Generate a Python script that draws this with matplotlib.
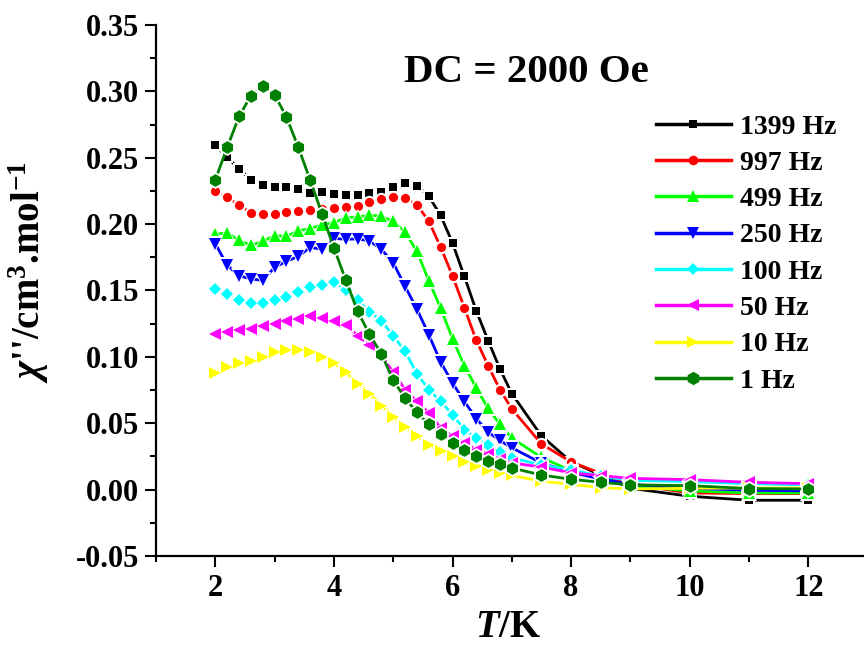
import matplotlib
matplotlib.use("Agg")
import matplotlib.pyplot as plt
from matplotlib.lines import Line2D
from matplotlib.ticker import MultipleLocator, FormatStrFormatter

plt.rcParams['font.family'] = 'Liberation Serif'
plt.rcParams['font.weight'] = 'bold'
plt.rcParams['axes.labelweight'] = 'bold'
plt.rcParams['mathtext.fontset'] = 'custom'
plt.rcParams['mathtext.rm'] = 'Liberation Serif:bold'
plt.rcParams['mathtext.bf'] = 'Liberation Serif:bold'
plt.rcParams['mathtext.it'] = 'Liberation Serif:italic:bold'

# Temperatures (K)
T = [2.0, 2.2, 2.4, 2.6, 2.8, 3.0, 3.2, 3.4, 3.6, 3.8, 4.0, 4.2, 4.4, 4.6, 4.8,
     5.0, 5.2, 5.4, 5.6, 5.8, 6.0, 6.2, 6.4, 6.6, 6.8, 7.0, 7.5, 8.0, 8.5, 9.0,
     10.0, 11.0, 12.0]

# out-of-phase susceptibility chi'' (cm3/mol) for each ac frequency
chi_1399 = [0.2595, 0.2503, 0.2415, 0.2334, 0.2294, 0.2279, 0.2279, 0.2264, 0.2236, 0.2244,
            0.2226, 0.2220, 0.2221, 0.2236, 0.2244, 0.2276, 0.2310, 0.2290, 0.2210, 0.2065,
            0.1858, 0.1606, 0.1348, 0.1123, 0.0909, 0.0723, 0.0405, 0.0210, 0.0110, 0.0010,
            -0.0050, -0.0080, -0.0080]
chi_997 = [0.2246, 0.2204, 0.2141, 0.2086, 0.2078, 0.2078, 0.2091, 0.2096, 0.2105, 0.2112,
           0.2122, 0.2129, 0.2139, 0.2166, 0.2189, 0.2206, 0.2197, 0.2146, 0.2022, 0.1827,
           0.1610, 0.1370, 0.1126, 0.0934, 0.0753, 0.0608, 0.0344, 0.0208, 0.0122, 0.0040,
           -0.0025, -0.0030, -0.0030]
chi_499 = [0.1925, 0.1933, 0.1877, 0.1840, 0.1870, 0.1913, 0.1908, 0.1950, 0.1966, 0.1995,
           0.2010, 0.2048, 0.2053, 0.2068, 0.2058, 0.2021, 0.1940, 0.1795, 0.1574, 0.1368,
           0.1136, 0.0934, 0.0766, 0.0612, 0.0492, 0.0389, 0.0242, 0.0143, 0.0080, 0.0030,
           -0.0010, -0.0025, -0.0025]
chi_250 = [0.1852, 0.1690, 0.1611, 0.1587, 0.1576, 0.1674, 0.1720, 0.1757, 0.1825, 0.1810,
           0.1892, 0.1886, 0.1888, 0.1874, 0.1810, 0.1710, 0.1531, 0.1360, 0.1167, 0.0961,
           0.0803, 0.0665, 0.0535, 0.0434, 0.0370, 0.0315, 0.0200, 0.0130, 0.0080, 0.0040,
           0.0010, -0.0005, -0.0010]
chi_100 = [0.1514, 0.1473, 0.1426, 0.1406, 0.1406, 0.1426, 0.1451, 0.1491, 0.1526, 0.1540,
           0.1563, 0.1500, 0.1425, 0.1340, 0.1272, 0.1160, 0.1041, 0.0873, 0.0753, 0.0665,
           0.0565, 0.0452, 0.0389, 0.0339, 0.0281, 0.0239, 0.0185, 0.0150, 0.0100, 0.0070,
           0.0060, 0.0045, 0.0035]
chi_50 = [0.1175, 0.1187, 0.1200, 0.1212, 0.1230, 0.1250, 0.1268, 0.1285, 0.1305, 0.1293,
          0.1268, 0.1242, 0.1160, 0.1092, 0.1004, 0.0887, 0.0753, 0.0665, 0.0578, 0.0465,
          0.0402, 0.0351, 0.0301, 0.0271, 0.0231, 0.0201, 0.0170, 0.0126, 0.0105, 0.0085,
          0.0075, 0.0055, 0.0045]
chi_10 = [0.0879, 0.0921, 0.0954, 0.0971, 0.0999, 0.1034, 0.1054, 0.1054, 0.1037, 0.0999,
          0.0954, 0.0883, 0.0798, 0.0723, 0.0633, 0.0550, 0.0472, 0.0407, 0.0339, 0.0288,
          0.0251, 0.0208, 0.0176, 0.0151, 0.0126, 0.0108, 0.0063, 0.0040, 0.0015, 0.0005,
          0.0010, 0.0012, 0.0012]
chi_1 = [0.2334, 0.2578, 0.2811, 0.2967, 0.3040, 0.2974, 0.2806, 0.2578, 0.2331, 0.2077,
         0.1820, 0.1580, 0.1343, 0.1170, 0.1022, 0.0825, 0.0688, 0.0582, 0.0494, 0.0419,
         0.0351, 0.0301, 0.0256, 0.0218, 0.0193, 0.0163, 0.0110, 0.0078, 0.0055, 0.0036,
         0.0030, 0.0008, 0.0005]

labels = ['1399 Hz', '997 Hz', '499 Hz', '250 Hz', '100 Hz', '50 Hz', '10 Hz', '1 Hz']
series = [chi_1399, chi_997, chi_499, chi_250, chi_100, chi_50, chi_10, chi_1]
colors = ['#000000', '#ff0000', '#00ff00', '#0000ff', '#00ffff', '#ff00ff', '#ffff00', '#008000']
markers = ['s', 'o', '^', 'v', 'D', '<', '>', 'h']
sizes = [5.8, 6.6, 8.6, 8.6, 6.3, 8.6, 8.6, 9.2]

fig = plt.figure(figsize=(8.64, 6.45), dpi=100)
ax = fig.add_axes([0.1806, 0.138, 0.8194, 0.8233])

# line, then a slightly bigger white symbol as a gap, then the coloured symbol
halo = 3.0
handles = []
for y, c, m, s in zip(series, colors, markers, sizes):
    ax.plot(T, y, color=c, lw=2)
    ax.plot(T, y, ls='none', marker=m, ms=s + halo, mfc='white', mec='white', mew=0)
    ax.plot(T, y, ls='none', marker=m, ms=s, mfc=c, mec=c, mew=0)
    handles.append(Line2D([], [], color=c, lw=2.5, marker=m, ms=s * 1.05, mfc=c, mec=c, mew=0))

ax.set_xlim(1, 12.94)
ax.set_ylim(-0.05, 0.35)
ax.xaxis.set_major_locator(MultipleLocator(2))
ax.xaxis.set_minor_locator(MultipleLocator(1))
ax.yaxis.set_major_locator(MultipleLocator(0.05))
ax.yaxis.set_minor_locator(MultipleLocator(0.025))
ax.yaxis.set_major_formatter(FormatStrFormatter('%.2f'))

for side in ['top', 'right']:
    ax.spines[side].set_visible(False)
for side in ['left', 'bottom']:
    ax.spines[side].set_linewidth(1.6)

ax.tick_params(which='major', direction='out', length=8, width=1.5, labelsize=22)
ax.tick_params(which='minor', direction='out', length=4.5, width=1.5)
ax.tick_params(axis='x', which='major', pad=5)
ax.tick_params(axis='y', which='major', pad=4)

ax.set_xlabel(r'$T$/K', fontsize=28)
ax.xaxis.set_label_coords(0.497, -0.1)
ax.set_ylabel(r"$\chi$''/cm$^{3}$.mol$^{-1}$", fontsize=28)
ax.yaxis.set_label_coords(-0.148, 0.535)

fig.text(0.609, 0.873, 'DC = 2000 Oe', fontsize=29.5, ha='center', va='baseline')

fig.legend(handles=handles, labels=labels, loc='upper left',
           bbox_to_anchor=(0.759, 0.823), frameon=False, fontsize=20,
           handlelength=2.7, handletextpad=0.35, labelspacing=0.39,
           borderpad=0, borderaxespad=0, numpoints=1)

plt.savefig('out.png', dpi=100)
